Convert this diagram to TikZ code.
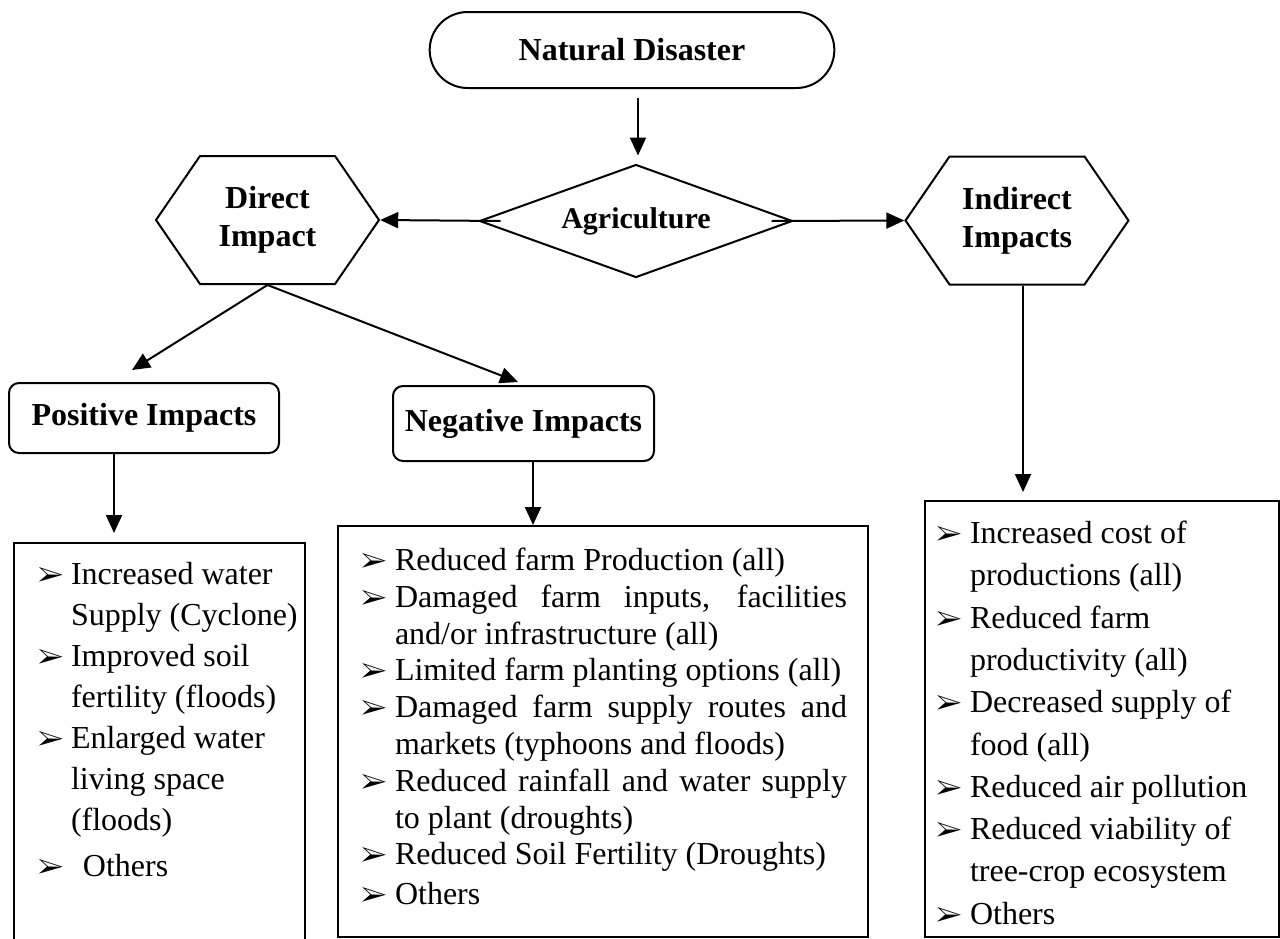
\documentclass[tikz,border=0pt]{standalone}
\usepackage{fontspec}
\setmainfont{Liberation Serif}
\usepackage{pifont}
\usetikzlibrary{shapes.geometric, shapes.misc, shapes.symbols, arrows.meta, positioning}

\newcommand{\arrowbullet}{{\fontsize{14pt}{14pt}\selectfont\ding{226}}}
\newenvironment{impactlist}[3]{%
  \begin{list}{\arrowbullet}{%
    \setlength{\leftmargin}{#2}\setlength{\rightmargin}{#3}%
    \setlength{\labelwidth}{0pt}\setlength{\labelsep}{\dimexpr#2-#1\relax}%
    \setlength{\itemsep}{0pt}\setlength{\parsep}{0pt}%
    \setlength{\topsep}{0pt}\setlength{\partopsep}{0pt}%
    \renewcommand{\makelabel}[1]{\rlap{##1}}}}%
  {\end{list}\par\nointerlineskip\hrule height 0pt width \hsize}

\begin{document}
\begin{tikzpicture}[x=0.5pt, y=-0.5pt, line width=1pt,
    title/.style={font=\fontsize{16pt}{19pt}\selectfont\bfseries, align=center},
    impact/.style={draw, rounded corners=5pt, title},
    hexbox/.style={draw, signal, signal to=east and west, signal pointer angle=111, minimum width=111.5pt, minimum height=64pt, inner sep=0pt, title},
    listbox/.style={draw, anchor=north west, inner sep=0pt},
    arrow/.style={-{Triangle[length=9pt, width=8pt]}}
]
    \useasboundingbox (0,0) rectangle (1280,938);

    \node[draw, rounded rectangle, minimum width=209pt, minimum height=38pt, title] (disaster) at (632,50) {Natural Disaster};
    \node[draw, diamond, aspect=2.77, minimum width=156.5pt, minimum height=56.5pt, inner sep=0pt, font=\fontsize{15pt}{17pt}\selectfont\bfseries] (agri) at (636,221) {Agriculture};
    \node[hexbox] (direct) at (267.5,220) {Direct\\Impact};
    \node[hexbox] (indirect) at (1017,220.5) {Indirect\\Impacts};

    \node[impact, minimum width=135pt, minimum height=35pt] (pos) at (144,418) {Positive Impacts};
    \node[impact, minimum width=130.5pt, minimum height=37.5pt] (neg) at (523.5,423.5) {Negative Impacts};

    % impact lists
    \node[listbox] (poslist) at (13,542) {%
      \begin{minipage}[t][209pt][t]{145.5pt}\fontsize{16pt}{20.5pt}\selectfont\raggedright
      \vspace*{9.5pt}
      \begin{impactlist}{12pt}{28.5pt}{0pt}
        \item Increased water\newline Supply (Cyclone)
        \item Improved soil\newline fertility (floods)
        \item Enlarged water\newline living space\newline (floods)
        \vspace{2.5pt}
        \item \hspace*{6pt}Others
      \end{impactlist}
      \end{minipage}};
    \node[listbox] (neglist) at (337,525) {%
      \begin{minipage}[t][205.5pt][t]{265pt}\fontsize{16pt}{18.4pt}\selectfont
      \vspace*{11pt}
      \begin{impactlist}{11.5pt}{28.5pt}{10.5pt}
        \item Reduced farm Production (all)
        \item Damaged farm inputs, facilities\linebreak and/or infrastructure (all)
        \item Limited farm planting options (all)
        \item Damaged farm supply routes and\linebreak markets (typhoons and floods)
        \item Reduced rainfall and water supply\linebreak to plant (droughts)
        \item Reduced Soil Fertility (Droughts)
        \vspace{1.5pt}
        \item Others
      \end{impactlist}
      \end{minipage}};
    \node[listbox] (indlist) at (924,500) {%
      \begin{minipage}[t][218pt][t]{177pt}\fontsize{16pt}{21.15pt}\selectfont\raggedright
      \vspace*{10pt}
      \begin{impactlist}{5.5pt}{22.5pt}{0pt}
        \item Increased cost of\newline productions (all)
        \item Reduced farm\newline productivity (all)
        \item Decreased supply of\newline food (all)
        \item Reduced air pollution
        \item Reduced viability of\newline tree-crop ecosystem
        \item Others
      \end{impactlist}
      \end{minipage}};

    % connectors
    \draw[arrow, shorten <=4.5pt, shorten >=4pt] ([xshift=1pt]agri.north |- disaster.south) -- ([xshift=1pt]agri.north);
    \draw[arrow] ([xshift=11pt]agri.west) -- (direct.east);
    \draw[arrow] ([xshift=-11pt]agri.east) -- (indirect.west);
    \draw[arrow] (direct.south) -- ([shift={(-12,-12)}]pos.north);
    \draw[arrow] (direct.south) -- ([shift={(-5.5,-3)}]neg.north);
    \draw[arrow, shorten >=4.5pt] ([xshift=-15pt]pos.south) -- ([xshift=-15pt]pos.south |- poslist.north);
    \draw[arrow] ([xshift=4.75pt]neg.south) -- ([xshift=4.75pt]neg.south |- neglist.north);
    \draw[arrow, shorten >=4pt] ([xshift=3pt]indirect.south) -- ([xshift=3pt]indirect.south |- indlist.north);
\end{tikzpicture}
\end{document}
